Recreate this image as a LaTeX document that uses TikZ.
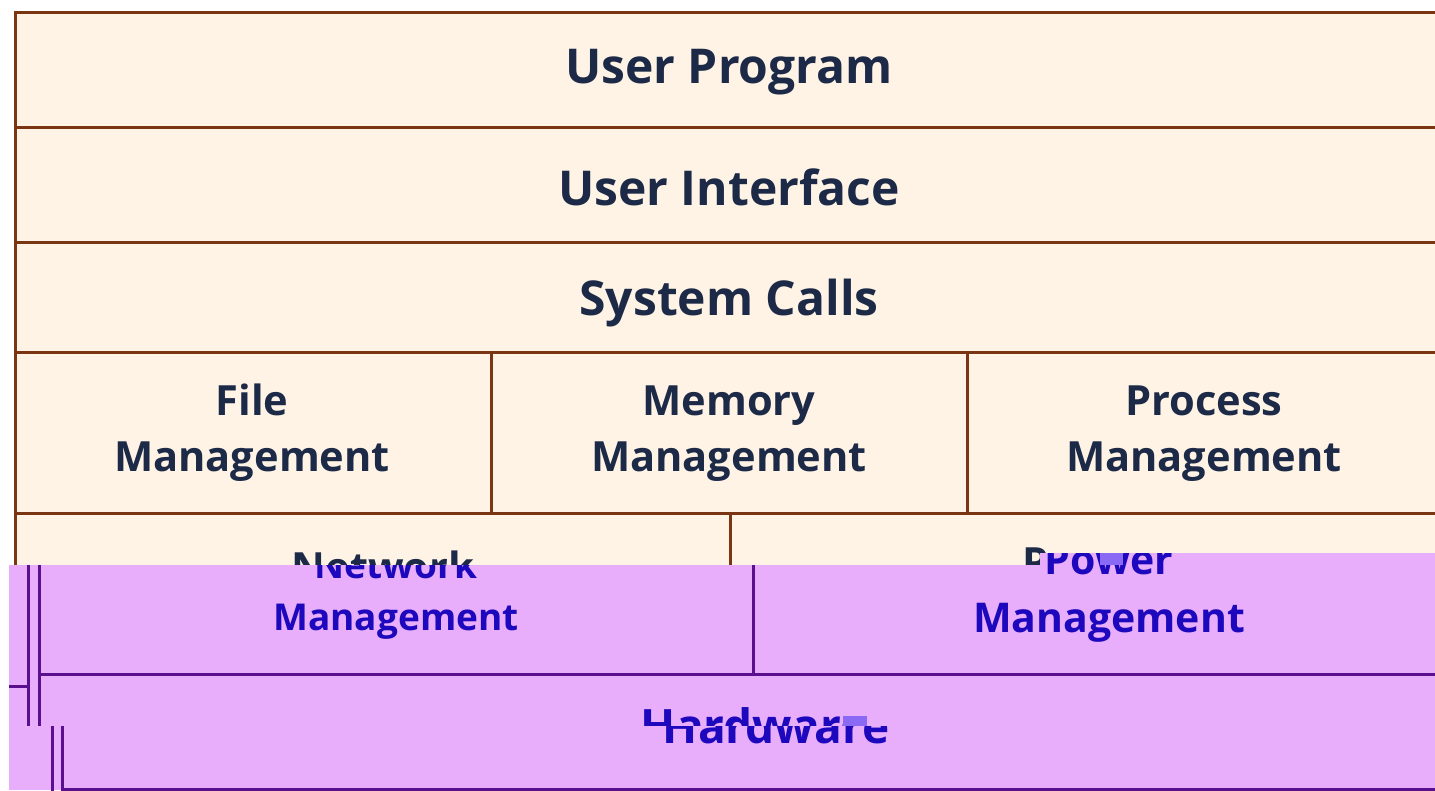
\documentclass[tikz,border=0pt]{standalone}
\usepackage{fontspec}
\setmainfont{Open Sans}
\definecolor{beige}{HTML}{FEF3E5}
\definecolor{brownline}{HTML}{7A3512}
\definecolor{navy}{HTML}{1C2A48}
\definecolor{lilac}{HTML}{E8AEFC}
\definecolor{plum}{HTML}{5A0F8F}
\definecolor{inkblue}{HTML}{1D08BD}
\definecolor{glitch}{HTML}{8A6AF5}
\tikzset{
  layer/.style={draw=brownline, line width=3pt, fill=beige, rectangle, inner sep=0pt, outer sep=0pt, anchor=north west},
  pbox/.style={draw=plum, line width=3pt, fill=lilac, rectangle, inner sep=0pt, outer sep=0pt, anchor=north west},
  bigtxt/.style={text=navy, font=\fontsize{48}{58}\selectfont\bfseries, anchor=base, inner sep=0pt},
  midtxt/.style={text=navy, font=\fontsize{41.6}{50}\selectfont\bfseries, anchor=base, inner sep=0pt},
  bluetxt/.style={text=inkblue, font=\fontsize{37}{45}\selectfont\bfseries, anchor=base, inner sep=0pt},
  bluebig/.style={text=inkblue, font=\fontsize{41}{50}\selectfont\bfseries, anchor=base, inner sep=0pt},
  bluehw/.style={text=inkblue, font=\fontsize{46}{55}\selectfont\bfseries, anchor=base, inner sep=0pt},
  pline/.style={draw=plum, line width=3pt},
}
\begin{document}
\begin{tikzpicture}[x=1pt,y=-1pt]
\useasboundingbox (0,0) rectangle (1435,790);
\clip (0,0) rectangle (1435,790);
\fill[white] (0,0) rectangle (1435,790);
% beige layers
\node[layer, minimum width=1430, minimum height=115] (up) at (15,12) {};
\node[layer, minimum width=1430, minimum height=115] (ui) at (15,127) {};
\node[layer, minimum width=1430, minimum height=110] (sc) at (15,242) {};
\node[layer, minimum width=476, minimum height=161] (fm) at (15,352) {};
\node[layer, minimum width=476, minimum height=161] (mm) at (491,352) {};
\node[layer, minimum width=476, minimum height=161] (pm) at (967,352) {};
\node[layer, minimum width=715, minimum height=160] (nm) at (15,513) {};
\node[layer, minimum width=715, minimum height=160] (pw) at (730,513) {};
% beige texts
\node[bigtxt] (upT) at (729,83) {User Program};
\node[bigtxt] (uiT) at (729,205) {User Interface};
\node[bigtxt] (scT) at (729,315) {System Calls};
\node[midtxt] (fmT1) at (252,415) {File};
\node[midtxt] (fmT2) at (252,471) {Management};
\node[midtxt] (mmT1) at (729,415) {Memory};
\node[midtxt] (mmT2) at (729,471) {Management};
\node[midtxt] (pmT1) at (1204,415) {Process};
\node[midtxt] (pmT2) at (1204,471) {Management};
\node[midtxt] (nmT1) at (383,582) {Network};
\node[midtxt] (pwT1) at (1088,577) {Power};
% purple overlay, upper strip
\begin{scope}
  \clip (9,565) -- (1040,565) -- (1040,553) -- (1435,553) -- (1435,726) -- (9,726) -- cycle;
  \fill[lilac] (0,540) rectangle (1435,790);
  \node[pbox, minimum width=714, minimum height=159] (pnm) at (39,515) {};
  \node[pbox, minimum width=714, minimum height=159] (ppw) at (753,515) {};
  \node[pbox, minimum width=1440, minimum height=140] (phwA) at (39,674) {};
  \coordinate (gA1) at (28,540);
  \coordinate (gA2) at (28,726);
  \coordinate (gA3) at (0,686);
  \draw[pline] (gA1) -- (gA2);
  \draw[pline] (gA3) -- (gA3 -| gA1);
  \node[bluetxt] (pnmT1) at (396,578) {Network};
  \node[bluetxt] (pnmT2) at (396,630) {Management};
  \node[bluebig] (ppwT1) at (1109,574) {Power};
  \node[bluebig] (ppwT2) at (1109,632) {Management};
  \node[bluehw] (hwA) at (754,742) {Hardware};
  \fill[glitch] (1100,553) rectangle (1123,565);
  \fill[glitch] (843,716) rectangle (867,726);
\end{scope}
% purple overlay, lower strip
\begin{scope}
  \clip (9,726) rectangle (1435,790);
  \fill[lilac] (0,700) rectangle (1435,790);
  \node[pbox, minimum width=1420, minimum height=200] (phwB) at (62,589) {};
  \coordinate (gB1) at (52,700);
  \coordinate (gB2) at (52,800);
  \draw[pline] (gB1) -- (gB2);
  \node[bluehw] (hwB) at (776,743) {Hardware};
\end{scope}
\end{tikzpicture}
\end{document}
